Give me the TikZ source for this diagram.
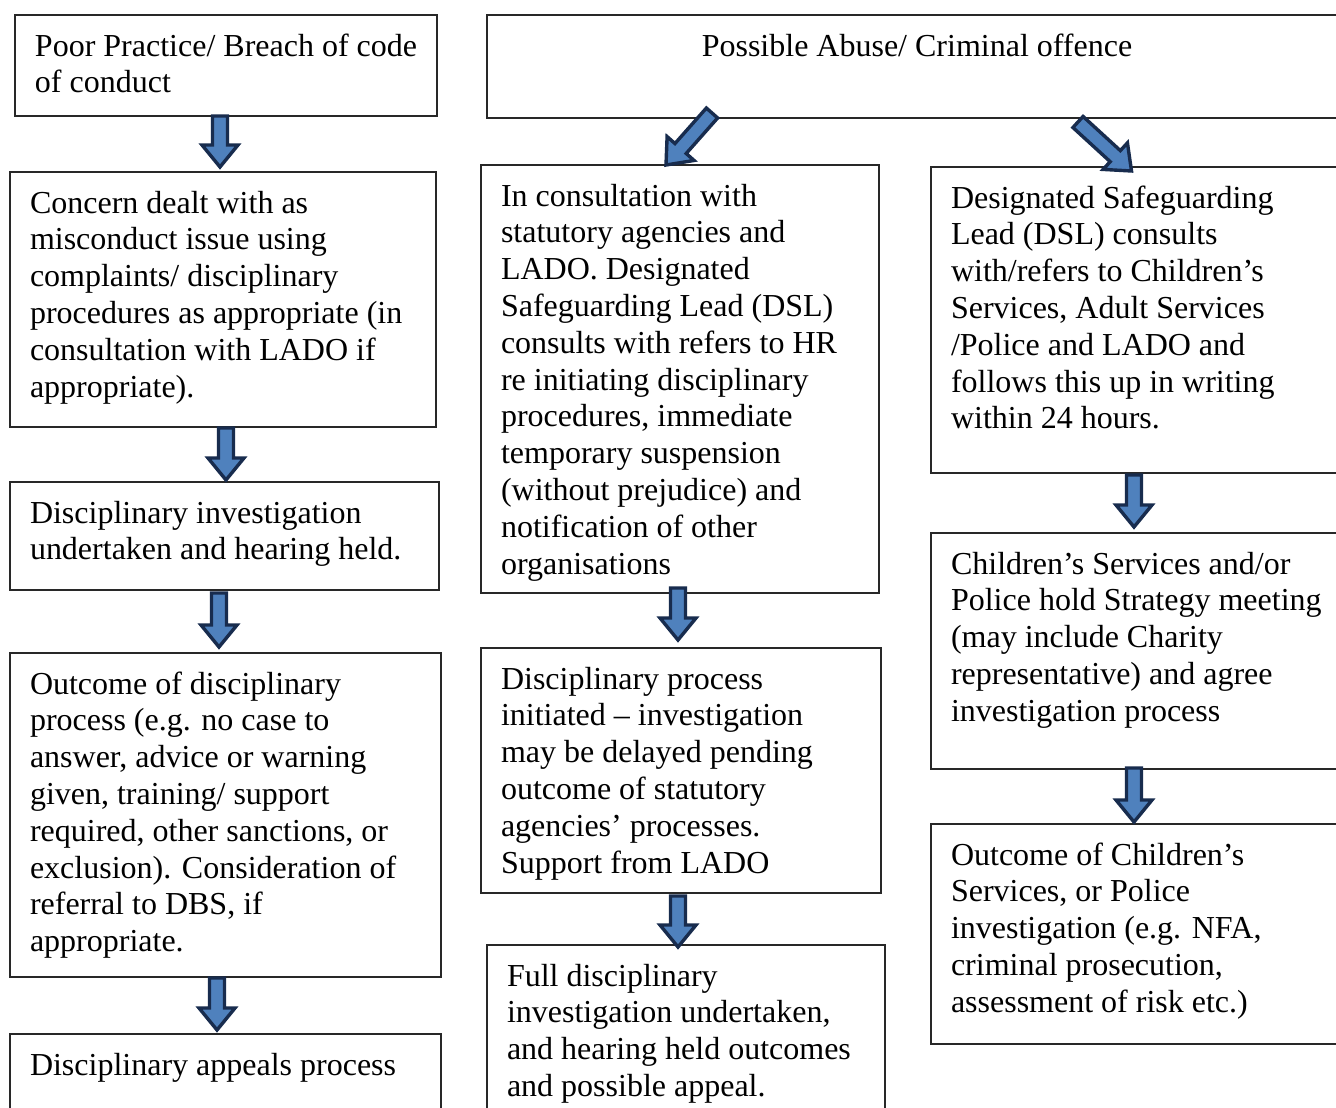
\documentclass[tikz,border=0pt]{standalone}
\usepackage{fontspec}
\setmainfont{Liberation Serif}
\usetikzlibrary{calc}
\definecolor{arrfill}{RGB}{79,129,189}
\definecolor{arredge}{RGB}{24,44,78}
\definecolor{boxline}{RGB}{40,40,40}
\tikzset{
  box/.style={draw=boxline, line width=1.2pt, inner sep=0pt, outer sep=0pt, anchor=north west, fill=white},
  fatarr/.style={fill=arrfill, draw=arredge, line width=3.4pt, line join=miter},
}
% #1 width, #2 height, #3 lines
\newcommand\boxtext[3]{\parbox[c][#2pt][t]{#1pt}{\raggedright\leftskip=20pt\fontsize{32}{36.8}\selectfont\rule{0pt}{41pt}#3}}
\newcommand\fatarrow[2]{%
  \path[fatarr] let \p1=(#1), \p2=(#2), \n1={atan2(\y2-\y1,\x2-\x1)} in
    ($(\p1)+(\n1+90:7.5pt)$) --
    ($(\p2)+(\n1+180:22pt)+(\n1+90:7.5pt)$) --
    ($(\p2)+(\n1+180:22pt)+(\n1+90:18pt)$) --
    (\p2) --
    ($(\p2)+(\n1+180:22pt)+(\n1-90:18pt)$) --
    ($(\p2)+(\n1+180:22pt)+(\n1-90:7.5pt)$) --
    ($(\p1)+(\n1-90:7.5pt)$) -- cycle;}
\begin{document}
\begin{tikzpicture}[x=1pt,y=-1pt]
\clip (0,0) rectangle (1336,1108);
\fill[white] (0,0) rectangle (1336,1108);
% left column
\node[box] (A1) at (15,15) {\boxtext{422}{101}{Poor Practice/ Breach of code\\of conduct}};
\node[box] (A2) at (10,172) {\boxtext{426}{255}{Concern dealt with as\\misconduct issue using\\complaints/ disciplinary\\procedures as appropriate (in\\consultation with LADO if\\appropriate).}};
\node[box] (A3) at (10,482) {\boxtext{429}{108}{Disciplinary investigation\\undertaken and hearing held.}};
\node[box] (A4) at (10,653) {\boxtext{431}{324}{Outcome of disciplinary\\process (e.g. no case to\\answer, advice or warning\\given, training/ support\\required, other sanctions, or\\exclusion). Consideration of\\referral to DBS, if\\appropriate.}};
\node[box] (A5) at (10,1034) {\boxtext{431}{90}{Disciplinary appeals process}};
% middle column
\node[box] (B0) at (487,15) {\parbox[c][103pt][t]{860pt}{\centering\fontsize{32}{36.8}\selectfont\rule{0pt}{41pt}Possible Abuse/ Criminal offence}};
\node[box] (B1) at (481,165) {\boxtext{398}{428}{In consultation with\\statutory agencies and\\LADO. Designated\\Safeguarding Lead (DSL)\\consults with refers to HR\\re initiating disciplinary\\procedures, immediate\\temporary suspension\\(without prejudice) and\\notification of other\\organisations}};
\node[box] (B2) at (481,648) {\boxtext{400}{245}{Disciplinary process\\initiated – investigation\\may be delayed pending\\outcome of statutory\\agencies’ processes.\\Support from LADO}};
\node[box] (B3) at (487,945) {\boxtext{398}{180}{Full disciplinary\\investigation undertaken,\\and hearing held outcomes\\and possible appeal.}};
% right column
\node[box] (C1) at (931,167) {\boxtext{415}{306}{Designated Safeguarding\\Lead (DSL) consults\\with/refers to Children’s\\Services, Adult Services\\/Police and LADO and\\follows this up in writing\\within 24 hours.}};
\node[box] (C2) at (931,533) {\boxtext{415}{236}{Children’s Services and/or\\Police hold Strategy meeting\\(may include Charity\\representative) and agree\\investigation process}};
\node[box] (C3) at (931,824) {\boxtext{415}{220}{Outcome of Children’s\\Services, or Police\\investigation (e.g. NFA,\\criminal prosecution,\\assessment of risk etc.)}};
% arrows
\fatarrow{$(A1.south)+(-6,0)$}{$(A2.north)+(-3,-5)$}
\fatarrow{$(A2.south)+(3,1)$}{$(A3.north)+(1.5,-2)$}
\fatarrow{$(A3.south)+(-5.5,3)$}{$(A4.north)+(-6.5,-6)$}
\fatarrow{$(A4.south)+(-8.5,1)$}{$(A5.north)+(-8.5,-4)$}
\fatarrow{$(B0.south west)+(225,-5)$}{$(B1.north)+(-14,0)$}
\fatarrow{$(B0.south west)+(591,4)$}{$(C1.north)+(-7,4)$}
\fatarrow{$(B1.south)+(-2,-5)$}{$(B2.north)+(-3,-8)$}
\fatarrow{$(B2.south)+(-3,3)$}{$(B3.north)+(-8,2)$}
\fatarrow{$(C1.south)+(-4.5,2)$}{$(C2.north)+(-4.5,-6)$}
\fatarrow{$(C2.south)+(-4.5,-1)$}{$(C3.north)+(-4.5,-2)$}
\end{tikzpicture}
\end{document}
